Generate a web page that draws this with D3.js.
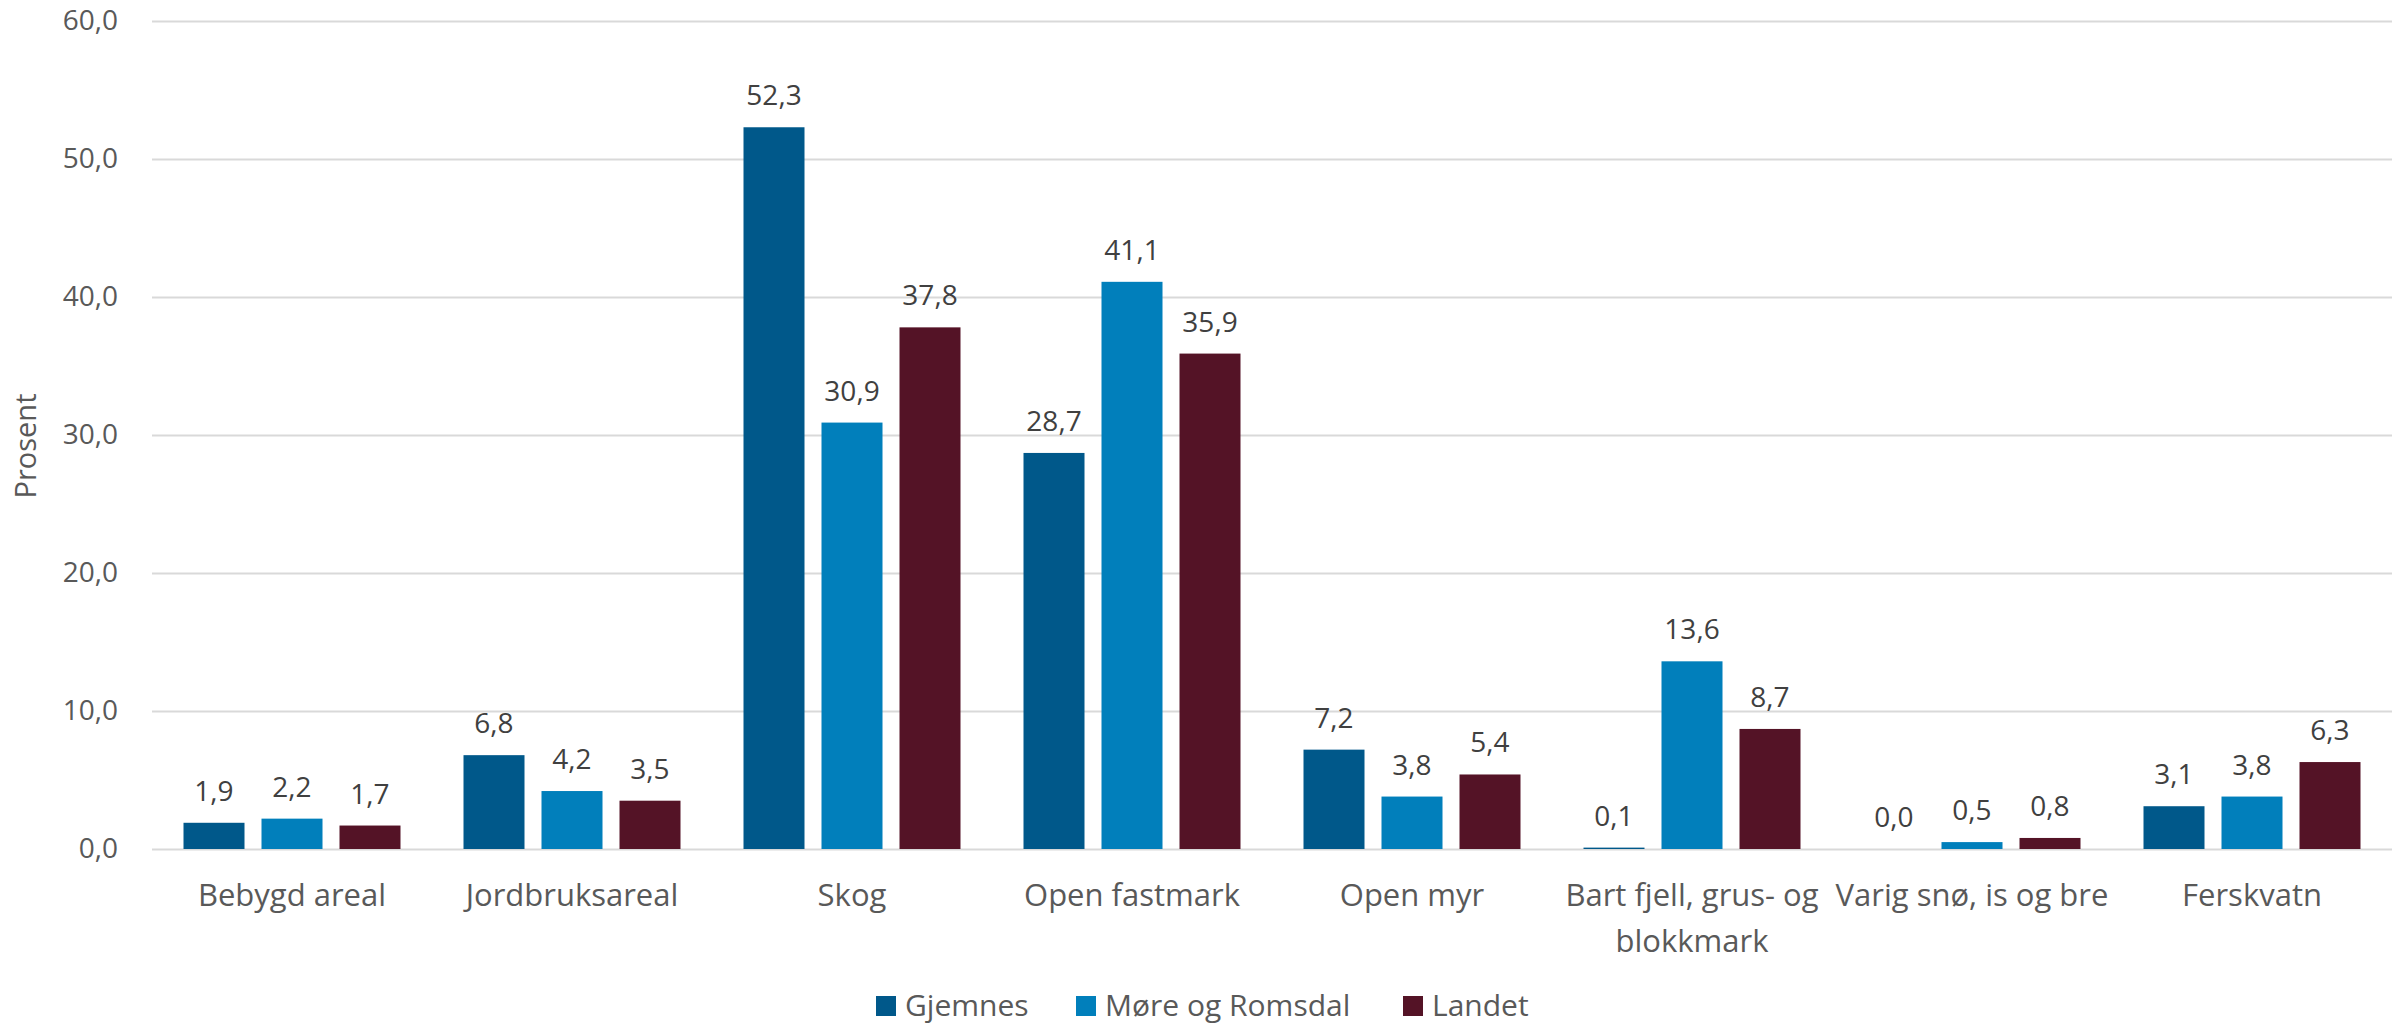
<!DOCTYPE html>
<html>
<head>
<meta charset="utf-8">
<script src="https://cdn.jsdelivr.net/npm/d3@7"></script>
<style>
  html, body { margin: 0; padding: 0; background: #ffffff; }
  svg { display: block; }
  text { font-family: "Open Sans", "Noto Sans", sans-serif; }
</style>
</head>
<body>
<svg id="chart" width="2407" height="1024"></svg>
<script>
const categories = ["Bebygd areal", "Jordbruksareal", "Skog", "Open fastmark", "Open myr",
  "Bart fjell, grus- og blokkmark", "Varig snø, is og bre", "Ferskvatn"];
const seriesNames = ["Gjemnes", "Møre og Romsdal", "Landet"];
const gjemnes = [1.9, 6.8, 52.3, 28.7, 7.2, 0.1, 0.0, 3.1];
const moreOgRomsdal = [2.2, 4.2, 30.9, 41.1, 3.8, 13.6, 0.5, 3.8];
const landet = [1.7, 3.5, 37.8, 35.9, 5.4, 8.7, 0.8, 6.3];
const yTicks = [0, 10, 20, 30, 40, 50, 60];
const yTitle = "Prosent";
const colors = ["#00588A", "#017FBB", "#541326"];

const seriesValues = [gjemnes, moreOgRomsdal, landet];
const fmt = v => v.toFixed(1).replace(".", ",");

const svg = d3.select("#chart");
const plotLeft = 152, plotRight = 2392, plotTop = 21, plotBottom = 849;

const x0 = d3.scaleBand().domain(categories).range([plotLeft, plotRight]).paddingInner(0).paddingOuter(0);
const groupW = 217;
const x1 = d3.scaleBand().domain(seriesNames).range([0, groupW]).paddingInner(17 / 78).paddingOuter(0);
const y = d3.scaleLinear().domain([0, 60]).range([plotBottom, plotTop]);

// gridlines + y axis
const yAxis = d3.axisLeft(y).tickValues(yTicks).tickFormat(fmt).tickSize(-(plotRight - plotLeft)).tickPadding(34);
const gy = svg.append("g").attr("transform", `translate(${plotLeft},0)`).call(yAxis);
gy.select(".domain").remove();
gy.selectAll(".tick line").attr("stroke", "#d9d9d9").attr("stroke-width", 2);
gy.selectAll(".tick text").attr("fill", "#595959").style("font-size", "28px");

// y title
svg.append("text")
  .attr("transform", `translate(36,446) rotate(-90)`)
  .attr("text-anchor", "middle")
  .attr("fill", "#595959")
  .style("font-size", "29px")
  .text(yTitle);

// bars
const groups = svg.append("g").selectAll("g")
  .data(categories)
  .join("g")
  .attr("transform", c => `translate(${x0(c) + (x0.bandwidth() - groupW) / 2},0)`);

groups.selectAll("rect")
  .data((c, i) => seriesNames.map((s, j) => ({ s, j, v: seriesValues[j][i] })))
  .join("rect")
  .attr("x", d => x1(d.s))
  .attr("width", x1.bandwidth())
  .attr("y", d => y(d.v))
  .attr("height", d => y(0) - y(d.v))
  .attr("fill", d => colors[d.j]);

groups.selectAll("text.val")
  .data((c, i) => seriesNames.map((s, j) => ({ s, j, v: seriesValues[j][i] })))
  .join("text")
  .attr("class", "val")
  .attr("x", d => x1(d.s) + x1.bandwidth() / 2)
  .attr("y", d => y(d.v) - 22)
  .attr("text-anchor", "middle")
  .attr("fill", "#404040")
  .style("font-size", "28px")
  .text(d => fmt(d.v));

// category labels (wrap)
const wrapLines = {
  "Bart fjell, grus- og blokkmark": ["Bart fjell, grus- og", "blokkmark"]
};
const catG = svg.append("g");
categories.forEach(c => {
  const lines = wrapLines[c] || [c];
  const cx = x0(c) + x0.bandwidth() / 2;
  const t = catG.append("text")
    .attr("x", cx)
    .attr("y", 906)
    .attr("text-anchor", "middle")
    .attr("fill", "#595959")
    .style("font-size", "31px");
  lines.forEach((ln, k) => {
    t.append("tspan").attr("x", cx).attr("dy", k === 0 ? 0 : 46).text(ln);
  });
});

// legend
const legendItems = [
  { name: seriesNames[0], color: colors[0], x: 876 },
  { name: seriesNames[1], color: colors[1], x: 1076 },
  { name: seriesNames[2], color: colors[2], x: 1403 }
];
const lg = svg.append("g");
legendItems.forEach(it => {
  lg.append("rect").attr("x", it.x).attr("y", 996).attr("width", 20).attr("height", 20).attr("fill", it.color);
  lg.append("text").attr("x", it.x + 29).attr("y", 1016).attr("fill", "#595959")
    .style("font-size", "30px").text(it.name);
});
</script>
</body>
</html>
